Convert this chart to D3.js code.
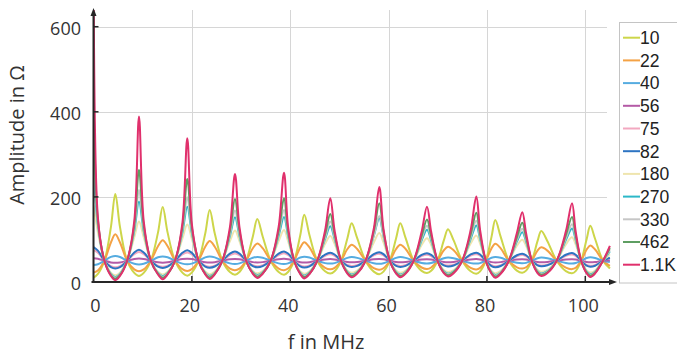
<!DOCTYPE html>
<html>
<head>
<meta charset="utf-8">
<script src="https://cdn.jsdelivr.net/npm/d3@7"></script>
<style>
  html, body { margin: 0; padding: 0; background: #fff; }
  svg { display: block; }
</style>
</head>
<body>
<svg id="chart" width="677" height="356"></svg>
<script>
// Frequency samples (MHz) shared by every termination curve
const freqMHz = [
  0, 0.89, 2.22, 3.54,
  4.43, 5.39, 6.84, 8.29,
  9.25, 10.21, 11.66, 13.11,
  14.07, 15.07, 16.57, 18.07,
  19.07, 19.98, 21.35, 22.72,
  23.63, 24.66, 26.2, 27.74,
  28.77, 29.68, 31.04, 32.4,
  33.31, 34.4, 36.03, 37.65,
  38.74, 39.56, 40.8, 42.04,
  42.86, 43.92, 45.5, 47.09,
  48.15, 49.02, 50.33, 51.63,
  52.5, 53.62, 55.31, 56.99,
  58.11, 58.96, 60.25, 61.53,
  62.38, 63.47, 65.1, 66.72,
  67.81, 68.66, 69.95, 71.23,
  72.08, 73.23, 74.96, 76.69,
  77.84, 78.61, 79.77, 80.93,
  81.7, 82.8, 84.45, 86.09,
  87.19, 87.96, 89.12, 90.28,
  91.05, 92.3, 94.18, 96.05,
  97.3, 98.04, 99.16, 100.28,
  101.02, 102.0, 103.6, 105.0
];

// Impedance magnitude (Ohm) for each termination resistor
const amp10 = [
  10, 19, 50, 129, 207, 129, 50, 21.3, 13.9, 21.3, 50, 116, 176, 116, 50, 22,
  14.9, 22, 50, 114, 169, 114, 50, 23.5, 17.1, 23.5, 50, 107, 148, 107, 50, 23.5,
  17, 23.5, 50, 110, 158, 110, 50, 25.3, 19.7, 25.3, 50, 103, 138, 103, 50, 24.4,
  18.4, 24.4, 50, 103, 138, 103, 50, 26.2, 21, 26.2, 50, 97.7, 124, 97.7, 50, 25.1,
  19.5, 25.1, 50, 106, 146, 106, 50, 26.8, 22, 26.8, 50, 96, 120, 96, 50, 25.7,
  20.4, 25.7, 50, 101, 132, 101, 50, 32
];
const amp22 = [
  22, 27.1, 50, 92.8, 112, 92.8, 50, 29.6, 25.2, 29.6, 50, 84, 98.2, 84, 50, 30.2,
  26, 30.2, 50, 82.9, 96.4, 82.9, 50, 31.6, 27.8, 31.6, 50, 79.4, 90.6, 79.4, 50, 31.6,
  27.7, 31.6, 50, 81.2, 93.5, 81.2, 50, 33.3, 29.8, 33.3, 50, 77.5, 87.6, 77.5, 50, 32.4,
  28.7, 32.4, 50, 77.5, 87.6, 77.5, 50, 34.1, 30.8, 34.1, 50, 74.6, 83, 74.6, 50, 33.1,
  29.6, 33.1, 50, 79, 90, 79, 50, 34.6, 31.5, 34.6, 50, 73.7, 81.6, 73.7, 50, 33.6,
  30.3, 33.6, 50, 76.3, 85.7, 76.3, 50, 38
];
const amp40 = [
  40, 41.8, 50, 58.9, 61.3, 58.9, 50, 42.9, 41.4, 42.9, 50, 58.1, 60.2, 58.1, 50, 43.2,
  41.7, 43.2, 50, 57.9, 60, 57.9, 50, 43.8, 42.4, 43.8, 50, 57.1, 59, 57.1, 50, 43.8,
  42.4, 43.8, 50, 57.5, 59.5, 57.5, 50, 44.4, 43.2, 44.4, 50, 56.7, 58.5, 56.7, 50, 44.1,
  42.8, 44.1, 50, 56.7, 58.5, 56.7, 50, 44.8, 43.6, 44.8, 50, 56, 57.6, 56, 50, 44.4,
  43.2, 44.4, 50, 57.1, 58.9, 57.1, 50, 45, 43.9, 45, 50, 55.9, 57.4, 55.9, 50, 44.7,
  43.5, 44.7, 50, 56.4, 58.1, 56.4, 50, 47
];
const amp56 = [
  56, 54.8, 50, 46, 45.1, 46, 50, 54, 55, 54, 50, 46.3, 45.5, 46.3, 50, 53.8,
  54.8, 53.8, 50, 46.4, 45.6, 46.4, 50, 53.4, 54.3, 53.4, 50, 46.7, 46, 46.7, 50, 53.5,
  54.4, 53.5, 50, 46.6, 45.8, 46.6, 50, 53, 53.8, 53, 50, 46.9, 46.2, 46.9, 50, 53.3,
  54.1, 53.3, 50, 46.9, 46.2, 46.9, 50, 52.9, 53.6, 52.9, 50, 47.2, 46.5, 47.2, 50, 53.1,
  53.9, 53.1, 50, 46.7, 46, 46.7, 50, 52.8, 53.4, 52.8, 50, 47.2, 46.6, 47.2, 50, 53,
  53.7, 53, 50, 47, 46.3, 47, 50, 51
];
const amp75 = [
  75, 69, 50, 37.2, 34.5, 37.2, 50, 65.7, 70.4, 65.7, 50, 38.2, 35.7, 38.2, 50, 65,
  69.4, 65, 50, 38.5, 36, 38.5, 50, 63.3, 67.2, 63.3, 50, 39.4, 37.1, 39.4, 50, 63.4,
  67.3, 63.4, 50, 38.9, 36.5, 38.9, 50, 61.7, 65, 61.7, 50, 39.9, 37.7, 39.9, 50, 62.6,
  66.1, 62.6, 50, 39.9, 37.7, 39.9, 50, 61, 64, 61, 50, 40.7, 38.7, 40.7, 50, 61.9,
  65.2, 61.9, 50, 39.5, 37.2, 39.5, 50, 60.4, 63.2, 60.4, 50, 40.9, 39, 40.9, 50, 61.3,
  64.4, 61.3, 50, 40.2, 38.1, 40.2, 50, 56
];
const amp82 = [
  82, 73.8, 50, 34.9, 31.8, 34.9, 50, 69.5, 75.8, 69.5, 50, 36, 33.1, 36, 50, 68.6,
  74.5, 68.6, 50, 36.4, 33.5, 36.4, 50, 66.7, 71.7, 66.7, 50, 37.3, 34.7, 37.3, 50, 66.8,
  71.8, 66.8, 50, 36.9, 34.1, 36.9, 50, 64.6, 68.8, 64.6, 50, 38, 35.5, 38, 50, 65.6,
  70.2, 65.6, 50, 38, 35.5, 38, 50, 63.7, 67.5, 63.7, 50, 38.9, 36.6, 38.9, 50, 64.8,
  69, 64.8, 50, 37.5, 34.9, 37.5, 50, 62.9, 66.5, 62.9, 50, 39.2, 37, 39.2, 50, 64.1,
  68, 64.1, 50, 38.3, 35.9, 38.3, 50, 57
];
const amp180 = [
  180, 117, 50, 22.1, 15.9, 22.1, 50, 105, 142, 105, 50, 24, 17.9, 24, 50, 102,
  135, 102, 50, 24.5, 18.5, 24.5, 50, 96, 121, 96, 50, 25.9, 20.4, 25.9, 50, 96.2,
  122, 96.2, 50, 25.1, 19.4, 25.1, 50, 89.8, 108, 89.8, 50, 26.8, 21.6, 26.8, 50, 92.9,
  115, 92.9, 50, 26.8, 21.6, 26.8, 50, 87.1, 103, 87.1, 50, 28.1, 23.5, 28.1, 50, 90.3,
  109, 90.3, 50, 26.1, 20.7, 26.1, 50, 85.1, 99.2, 85.1, 50, 28.6, 24.1, 28.6, 50, 88.3,
  105, 88.3, 50, 27.2, 22.3, 27.2, 50, 65
];
const amp270 = [
  270, 134, 50, 19, 11.4, 19, 50, 120, 189, 120, 50, 21.1, 13.5, 21.1, 50, 116,
  177, 116, 50, 21.5, 14.1, 21.5, 50, 108, 152, 108, 50, 22.9, 16.2, 22.9, 50, 109,
  153, 109, 50, 22.2, 15.1, 22.2, 50, 101, 131, 101, 50, 23.7, 17.4, 23.7, 50, 108,
  150, 108, 50, 23.7, 17.4, 23.7, 50, 97.4, 123, 97.4, 50, 25.1, 19.5, 25.1, 50, 101,
  133, 101, 50, 23.1, 16.4, 23.1, 50, 95, 117, 95, 50, 25.5, 20.2, 25.5, 50, 98.8,
  126, 98.8, 50, 24.3, 18.3, 24.3, 50, 72
];
const amp330 = [
  330, 140, 50, 17.8, 9.7, 17.8, 50, 126, 216, 126, 50, 20.1, 11.9, 20.1, 50, 122,
  199, 122, 50, 20.6, 12.5, 20.6, 50, 113, 168, 113, 50, 21.9, 14.6, 21.9, 50, 114,
  169, 114, 50, 21.2, 13.5, 21.2, 50, 105, 142, 105, 50, 22.7, 15.9, 22.7, 50, 109,
  155, 109, 50, 22.7, 15.9, 22.7, 50, 102, 132, 102, 50, 24, 18, 24, 50, 106,
  144, 106, 50, 22.1, 14.9, 22.1, 50, 99.2, 125, 99.2, 50, 24.4, 18.7, 24.4, 50, 103,
  136, 103, 50, 23.2, 16.7, 23.2, 50, 75
];
const amp462 = [
  462, 146, 50, 16.5, 7.6, 16.5, 50, 133, 263, 133, 50, 19, 9.8, 19, 50, 129,
  242, 129, 50, 19.4, 10.4, 19.4, 50, 120, 195, 120, 50, 20.7, 12.6, 20.7, 50, 120,
  197, 120, 50, 20.1, 11.5, 20.1, 50, 112, 160, 112, 50, 21.5, 13.9, 21.5, 50, 119,
  185, 119, 50, 21.5, 13.9, 21.5, 50, 108, 147, 108, 50, 22.7, 16.1, 22.7, 50, 112,
  163, 112, 50, 20.8, 12.8, 20.8, 50, 105, 139, 105, 50, 23.1, 16.8, 23.1, 50, 110,
  153, 110, 50, 22, 14.8, 22, 50, 80
];
const amp1k1 = [
  1100, 152, 50, 14.4, 4.4, 14.4, 50, 143, 389, 143, 50, 17.7, 6.7, 17.7, 50, 138,
  338, 138, 50, 18, 7.3, 18, 50, 129, 254, 129, 50, 19.2, 9.6, 19.2, 50, 130,
  257, 130, 50, 18.6, 8.4, 18.6, 50, 121, 197, 121, 50, 19.8, 10.9, 19.8, 50, 125,
  223, 125, 50, 19.8, 10.9, 19.8, 50, 118, 177, 118, 50, 20.8, 13.2, 20.8, 50, 122,
  201, 122, 50, 19.4, 9.9, 19.4, 50, 115, 164, 115, 50, 21.1, 13.9, 21.1, 50, 119,
  185, 119, 50, 20.2, 11.8, 20.2, 50, 85
];

const seriesLabels = ["10", "22", "40", "56", "75", "82", "180", "270", "330", "462", "1.1K"];
const seriesValues = [amp10, amp22, amp40, amp56, amp75, amp82, amp180, amp270, amp330, amp462, amp1k1];
const seriesColors = ["#cdd64a", "#f4a245", "#56ace0", "#b45aa6", "#f3a8c0", "#2d74c2",
                      "#efe5ae", "#2cb8c8", "#c6c6c6", "#5e9e62", "#e0306c"];

const xTicks = [0, 20, 40, 60, 80, 100];
const yTicks = [0, 200, 400, 600];

const svg = d3.select("#chart");

const x = d3.scaleLinear().domain([0, 100]).range([93.5, 585.3]);
const y = d3.scaleLinear().domain([0, 620]).range([282, 18.2]);

const plotLeft = x(0), plotBottom = y(0);
const gridRight = 607, axisTop = 8, axisRight = 617;

// grid
const grid = svg.append("g").attr("stroke", "#d6d6d6").attr("stroke-width", 1);
grid.selectAll("line.h").data(yTicks.filter(d => d > 0)).join("line")
  .attr("x1", plotLeft).attr("x2", gridRight)
  .attr("y1", d => Math.round(y(d)) + 0.5).attr("y2", d => Math.round(y(d)) + 0.5);
grid.selectAll("line.v").data(xTicks.filter(d => d > 0)).join("line")
  .attr("x1", d => Math.round(x(d)) + 0.5).attr("x2", d => Math.round(x(d)) + 0.5)
  .attr("y1", axisTop + 2).attr("y2", plotBottom);

// curves
svg.append("defs").append("clipPath").attr("id", "plotClip")
  .append("rect").attr("x", plotLeft).attr("y", axisTop + 2)
  .attr("width", axisRight - plotLeft).attr("height", plotBottom - axisTop - 2);

const line = d3.line()
  .x((d, i) => x(freqMHz[i]))
  .y(d => y(d))
  .curve(d3.curveCatmullRom.alpha(0.5));

svg.append("g").attr("clip-path", "url(#plotClip)")
  .selectAll("path").data(seriesValues).join("path")
  .attr("d", d => line(d))
  .attr("fill", "none")
  .attr("stroke", (d, i) => seriesColors[i])
  .attr("stroke-width", 2)
  .attr("stroke-linejoin", "round");

// axes
const axisColor = "#262626";
const axes = svg.append("g").attr("stroke", axisColor).attr("stroke-width", 2).attr("fill", "none");
axes.append("line").attr("x1", plotLeft).attr("x2", plotLeft).attr("y1", plotBottom + 1).attr("y2", axisTop + 4);
axes.append("line").attr("x1", plotLeft - 2).attr("x2", axisRight - 4).attr("y1", plotBottom).attr("y2", plotBottom);
svg.append("path")
  .attr("d", `M${plotLeft},${axisTop} L${plotLeft - 3},${axisTop + 8} L${plotLeft + 3},${axisTop + 8} Z`)
  .attr("fill", axisColor);
svg.append("path")
  .attr("d", `M${axisRight},${plotBottom} L${axisRight - 8},${plotBottom - 3} L${axisRight - 8},${plotBottom + 3} Z`)
  .attr("fill", axisColor);

// tick marks
const ticks = svg.append("g").attr("stroke", axisColor).attr("stroke-width", 1.5);
ticks.selectAll("line.xt").data(xTicks.filter(d => d > 0)).join("line")
  .attr("x1", d => x(d)).attr("x2", d => x(d))
  .attr("y1", plotBottom).attr("y2", plotBottom - 6);
ticks.selectAll("line.yt").data(yTicks.filter(d => d > 0)).join("line")
  .attr("x1", plotLeft).attr("x2", plotLeft + 5)
  .attr("y1", d => y(d)).attr("y2", d => y(d));

// tick labels
const labelFont = "'Open Sans', 'DejaVu Sans', sans-serif";
svg.append("g").selectAll("text").data(xTicks).join("text")
  .attr("x", d => x(d) + (d === 0 ? 2 : -2))
  .attr("y", 311.5)
  .attr("text-anchor", "middle")
  .attr("font-family", labelFont).attr("font-size", 18).attr("fill", "#333")
  .text(d => d);
svg.append("g").selectAll("text").data(yTicks).join("text")
  .attr("x", 81)
  .attr("y", d => y(d) + 8)
  .attr("text-anchor", "end")
  .attr("font-family", labelFont).attr("font-size", 18).attr("fill", "#333")
  .text(d => d);

// axis titles
svg.append("text")
  .attr("x", 326).attr("y", 349)
  .attr("text-anchor", "middle")
  .attr("font-family", labelFont).attr("font-size", 20).attr("fill", "#333")
  .text("f in MHz");
svg.append("text")
  .attr("transform", "translate(24,135) rotate(-90)")
  .attr("text-anchor", "middle")
  .attr("font-family", labelFont).attr("font-size", 20).attr("fill", "#333")
  .text("Amplitude in Ω");

// legend
const legend = svg.append("g");
legend.append("rect")
  .attr("x", 619.5).attr("y", 22.5).attr("width", 80).attr("height", 260.5)
  .attr("fill", "#fff").attr("stroke", "#c4c4c4").attr("stroke-width", 1);
const item = legend.selectAll("g.item").data(seriesLabels).join("g")
  .attr("transform", (d, i) => `translate(0,${37.7 + i * 22.7})`);
item.append("line")
  .attr("x1", 623).attr("x2", 640).attr("y1", 0).attr("y2", 0)
  .attr("stroke", (d, i) => seriesColors[i]).attr("stroke-width", 2);
item.append("text")
  .attr("x", 640).attr("y", 6.3)
  .attr("font-family", "'Liberation Sans', Arial, sans-serif")
  .attr("font-size", 17.5).attr("fill", "#222")
  .text(d => d);
</script>
</body>
</html>
